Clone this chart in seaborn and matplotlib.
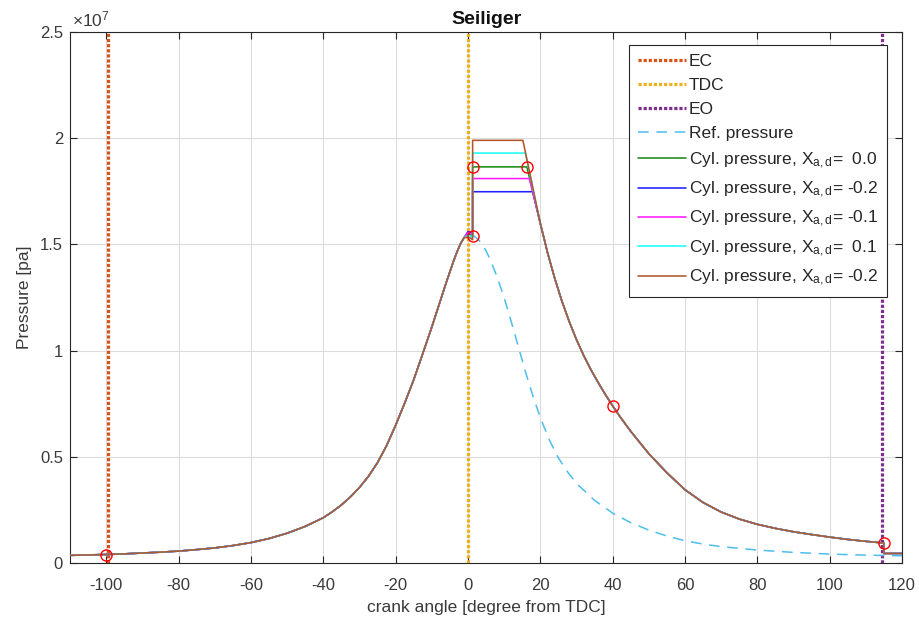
import numpy as np
import pandas as pd
import matplotlib
matplotlib.use("Agg")
import matplotlib.pyplot as plt
import seaborn as sns

# ---------------- data (pressure in units of 1e7 Pa) ----------------
ec_angle = -99.5
tdc_angle = 0.0
eo_angle = 114.4

comp_angle = [-110, -105, -100, -95, -90, -85, -80, -75, -70, -65, -60, -55, -50, -45,
              -40, -37.5, -35, -32.5, -30, -27.5, -25, -22.5, -20, -17.5, -15, -12.5,
              -10, -8, -6, -4, -3, -2, -1]
comp_p = [0.036, 0.038, 0.040, 0.043, 0.047, 0.051, 0.056, 0.063, 0.071, 0.082, 0.096,
          0.115, 0.140, 0.172, 0.213, 0.241, 0.273, 0.311, 0.355, 0.408, 0.472, 0.552,
          0.648, 0.752, 0.862, 0.985, 1.110, 1.215, 1.320, 1.420, 1.465, 1.505, 1.533]

exp_angle = [20, 22, 24, 26, 28, 30, 32, 34, 36, 38, 40, 42, 45, 50, 55, 60, 65, 70, 75,
             80, 85, 90, 95, 100, 105, 110, 115]
exp_p = [1.600, 1.462, 1.340, 1.232, 1.137, 1.052, 0.977, 0.910, 0.850, 0.793, 0.740,
         0.690, 0.620, 0.515, 0.425, 0.345, 0.285, 0.240, 0.207, 0.182, 0.163, 0.147,
         0.134, 0.122, 0.111, 0.102, 0.094]

after_eo_angle = [115, 120]
after_eo_p = [0.045, 0.045]

ref_angle = [0, 1, 2, 3, 4, 5, 6, 8, 10, 12, 14, 16, 18, 20, 22.5, 25, 27.5, 30, 35, 40,
             45, 50, 55, 60, 65, 70, 80, 90, 100, 110, 120]
ref_p = [1.545, 1.545, 1.535, 1.520, 1.500, 1.470, 1.435, 1.350, 1.250, 1.135, 1.015,
         0.895, 0.785, 0.685, 0.580, 0.495, 0.430, 0.375, 0.295, 0.235, 0.190, 0.155,
         0.127, 0.105, 0.089, 0.077, 0.061, 0.050, 0.042, 0.037, 0.034]

series_label_val = ["  0.0", " -0.2", " -0.1", "  0.1", " -0.2"]
series_peak = [1.548, 1.560, 1.556, 1.542, 1.532]
series_pmax = [1.865, 1.748, 1.810, 1.930, 1.990]
series_end = [16.3, 17.9, 17.0, 15.9, 15.2]
series_colors = ["#1a8a1a", "#1f1fff", "#ff1aff", "#1affff", "#b0582c"]
jump_angle = 1.3

marker_angle = [-100, 1.3, 1.3, 16.3, 40, 115]
marker_p = [0.039, 1.54, 1.865, 1.865, 0.74, 0.094]

# ---------------- style ----------------
sns.set_theme(style="white")
plt.rcParams["font.family"] = ["Liberation Sans", "DejaVu Sans"]
plt.rcParams["mathtext.fontset"] = "custom"
plt.rcParams["mathtext.rm"] = "Liberation Sans"
plt.rcParams["mathtext.it"] = "Liberation Sans"
plt.rcParams["axes.unicode_minus"] = False

fig = plt.figure(figsize=(9.19, 6.22), dpi=100)
ax = fig.add_axes([70 / 919, 1 - 563 / 622, 832 / 919, 531 / 622])

dark = "#262626"
grey_txt = "#3a3a3a"

# vertical event lines
dot = (0, (1, 0.6))
ax.axvline(ec_angle, color="#D95319", lw=2.3, ls=dot, label="EC", zorder=3)
ax.axvline(tdc_angle, color="#EDB120", lw=2.3, ls=dot, label="TDC", zorder=3)
ax.axvline(eo_angle, color="#7E2F8E", lw=2.3, ls=dot, label="EO", zorder=3)

# reference pressure
ref_df = pd.DataFrame({"angle": comp_angle + ref_angle, "p": comp_p + ref_p})
sns.lineplot(data=ref_df, x="angle", y="p", sort=False, estimator=None,
             color="#4DBEEE", lw=1.1, ls=(0, (7, 5)), label="Ref. pressure", ax=ax, zorder=4)

# cylinder pressure series
for val, peak, pmax, pend, col in zip(series_label_val, series_peak, series_pmax,
                                      series_end, series_colors):
    a = list(comp_angle) + [0.0, 0.7, jump_angle, jump_angle, pend]
    p = list(comp_p) + [peak, peak - 0.002, peak - 0.01, pmax, pmax]
    for ea, ep in zip(exp_angle, exp_p):
        if ea > pend + 1.5:
            a.append(ea)
            p.append(ep)
    a += after_eo_angle
    p += after_eo_p
    df = pd.DataFrame({"angle": a, "p": p})
    sns.lineplot(data=df, x="angle", y="p", sort=False, estimator=None, color=col,
                 lw=1.15, label=r"Cyl. pressure, X$_{\mathrm{a,d}}$=" + val, ax=ax, zorder=5)

# markers
mk_df = pd.DataFrame({"angle": marker_angle, "p": marker_p})
sns.lineplot(data=mk_df, x="angle", y="p", sort=False, estimator=None, ls="none",
             marker="o", markersize=8, markerfacecolor="none", markeredgecolor="red",
             markeredgewidth=1.0, legend=False, ax=ax, zorder=6)

# axes
ax.set_xlim(-110, 120)
ax.set_ylim(0, 2.5)
ax.set_xticks(np.arange(-100, 121, 20))
ax.set_yticks([0, 0.5, 1, 1.5, 2, 2.5])
ax.set_yticklabels(["0", "0.5", "1", "1.5", "2", "2.5"])
ax.grid(True, color="#dcdcdc", lw=0.8)
ax.set_axisbelow(True)
for s in ax.spines.values():
    s.set_color(dark)
    s.set_linewidth(0.8)
ax.tick_params(direction="in", length=5, width=0.8, colors=dark, labelcolor=grey_txt,
               labelsize=12, top=True, right=True, bottom=True, left=True)
ax.tick_params(axis="x", pad=10.5)
ax.tick_params(axis="y", pad=5)

ax.set_xlabel("crank angle [degree from TDC]", fontsize=12.5, color=grey_txt, labelpad=5)
ax.set_ylabel("Pressure [pa]", fontsize=12.5, color=grey_txt, labelpad=6)
ax.set_title("Seiliger", fontsize=14, fontweight="bold", color="#111111", pad=6)
ax.text(0.002, 1.004, r"$\times$10$^{7}$", transform=ax.transAxes, fontsize=12.5,
        color=grey_txt, ha="left", va="bottom")

leg = ax.legend(loc="upper right", bbox_to_anchor=(0.982, 0.9755), borderaxespad=0,
                fontsize=12.5, frameon=True, fancybox=False, framealpha=1,
                edgecolor=dark, handlelength=2.75, handletextpad=0.2,
                labelspacing=0.52, borderpad=0.5)
leg.get_frame().set_linewidth(0.8)
for t in leg.get_texts():
    t.set_color(dark)

fig.savefig("out.png", dpi=100)
